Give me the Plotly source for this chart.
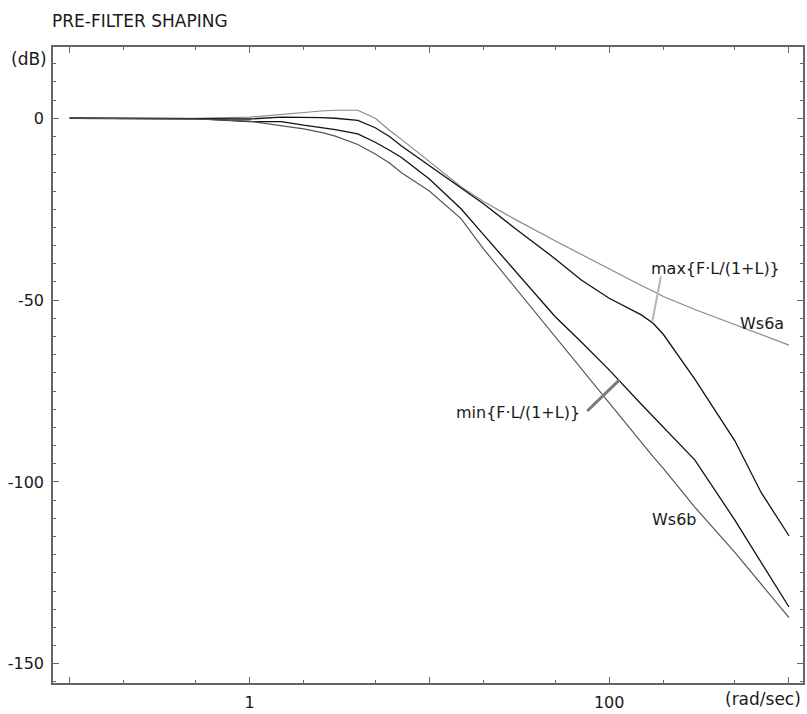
import math
import plotly.graph_objects as go

# angular frequency (rad/sec)
freq = [0.1, 0.2, 0.5, 1, 1.5, 2, 2.5, 3, 4, 5, 6, 7, 10, 15, 20, 30, 50, 70, 100, 150, 175, 200, 300, 500, 700, 1000]

# magnitudes (dB)
ws6a = [0, 0, 0, 0.3, 1.1, 1.5, 2.0, 2.2, 2.2, 0.0, -3.3, -5.8, -12.0, -18.8, -22.9, -27.8, -33.7, -37.5,
        -41.5, -45.9, -47.5, -49.0, -52.6, -56.8, -59.6, -62.4]
fl_max = [0, 0, 0, -0.2, 0.3, 0.3, 0.2, 0.0, -0.6, -2.6, -5.0, -7.6, -13.0, -19.2, -23.5, -30.3, -38.6, -44.5,
          -49.5, -54.0, -56.3, -59.4, -71.8, -88.7, -102.9, -114.8]
fl_min = [0, 0, -0.1, -0.9, -0.9, -1.9, -2.5, -3.1, -4.3, -6.6, -8.8, -10.8, -16.7, -24.9, -32.0, -42.0, -54.5, -61.5,
          -69.2, -78.5, -81.9, -85.0, -94.0, -110.5, -122.0, -134.4]
ws6b = [0, 0, -0.2, -0.8, -2.0, -2.9, -3.9, -4.9, -7.2, -9.8, -12.3, -15.0, -20.0, -27.6, -35.9, -46.6, -59.9, -68.9,
        -78.5, -89.2, -93.0, -96.3, -107.0, -119.4, -128.0, -137.3]

x_tickvals = [0.1, 1, 10, 100, 1000]
x_ticktext = ["", "1", "", "100", ""]
x_minor = [0.2, 0.5, 2, 5, 20, 50, 200, 500]
y_tickvals = [0, -50, -100, -150]
y_ticktext = ["0", "-50", "-100", "-150"]

# label positions (frequency, dB)
max_label = (390, -41.3)
ws6a_label = (710, -56.4)
min_label = (31.2, -80.9)
ws6b_label = (230, -110.4)
max_pointer = ([194, 174], [-43.5, -55.7])
min_pointer = ([75.5, 113.7], [-80.5, -72.0])

FONT = "DejaVu Sans"
TXT = "#1a1a1a"

fig = go.Figure()
fig.add_trace(go.Scatter(x=freq, y=ws6a, mode="lines", line=dict(color="#8a8a8a", width=1.2), name="Ws6a"))
fig.add_trace(go.Scatter(x=freq, y=fl_max, mode="lines", line=dict(color="#111111", width=1.3), name="max"))
fig.add_trace(go.Scatter(x=freq, y=fl_min, mode="lines", line=dict(color="#111111", width=1.3), name="min"))
fig.add_trace(go.Scatter(x=freq, y=ws6b, mode="lines", line=dict(color="#555555", width=1.2), name="Ws6b"))
fig.add_trace(go.Scatter(x=max_pointer[0], y=max_pointer[1], mode="lines",
                         line=dict(color="#b5b5b5", width=2), hoverinfo="skip"))
fig.add_trace(go.Scatter(x=min_pointer[0], y=min_pointer[1], mode="lines",
                         line=dict(color="#7a7a7a", width=3), hoverinfo="skip"))


def ann(pos, text):
    return dict(x=math.log10(pos[0]), y=pos[1], xref="x", yref="y", text=text, showarrow=False,
                xanchor="center", yanchor="middle", font=dict(family=FONT, size=16, color=TXT))


annotations = [
    ann(max_label, "max{F·L/(1+L)}"),
    ann(ws6a_label, "Ws6a"),
    ann(min_label, "min{F·L/(1+L)}"),
    ann(ws6b_label, "Ws6b"),
    dict(x=1, y=0, xref="paper", yref="paper", text="(rad/sec)", showarrow=False,
         xanchor="right", yanchor="top", yshift=-4,
         font=dict(family=FONT, size=17, color=TXT)),
    dict(x=0, y=1, xref="paper", yref="paper", text="(dB)", showarrow=False,
         xanchor="right", yanchor="middle", yshift=-12, xshift=-4,
         font=dict(family=FONT, size=17, color=TXT)),
]

fig.update_layout(
    width=807, height=714,
    margin=dict(l=53, r=2, t=47, b=28),
    paper_bgcolor="white", plot_bgcolor="white",
    showlegend=False,
    font=dict(family=FONT, size=16, color=TXT),
    title=dict(text="PRE-FILTER SHAPING", x=52 / 807, xanchor="left", xref="container",
               y=1 - 21 / 714, yanchor="middle", yref="container",
               font=dict(family=FONT, size=17, color=TXT)),
    annotations=annotations,
)
fig.update_xaxes(type="log", range=[-1.093, 3.078], showgrid=False, zeroline=False,
                 showline=True, linecolor="#666", linewidth=1.5, mirror="ticks",
                 ticks="inside", ticklen=6, tickcolor="#666", tickwidth=1,
                 tickmode="array", tickvals=x_tickvals, ticktext=x_ticktext,
                 ticklabelstandoff=4,
                 minor=dict(ticks="inside", tickmode="array", tickvals=x_minor, ticklen=3,
                            tickcolor="#666", tickwidth=1, showgrid=False))
fig.update_yaxes(range=[-155.3, 19.6], showgrid=False, zeroline=False,
                 showline=True, linecolor="#666", linewidth=1.5, mirror="ticks",
                 ticks="inside", ticklen=6, tickcolor="#666", tickwidth=1,
                 tickmode="array", tickvals=y_tickvals, ticktext=y_ticktext,
                 ticklabelstandoff=4,
                 minor=dict(ticks="inside", dtick=5, ticklen=3, tickcolor="#666",
                            tickwidth=1, showgrid=False))

fig.write_html("out.html", config={"displayModeBar": False},
               post_script="document.body.style.margin='0';document.body.style.overflow='hidden';")
